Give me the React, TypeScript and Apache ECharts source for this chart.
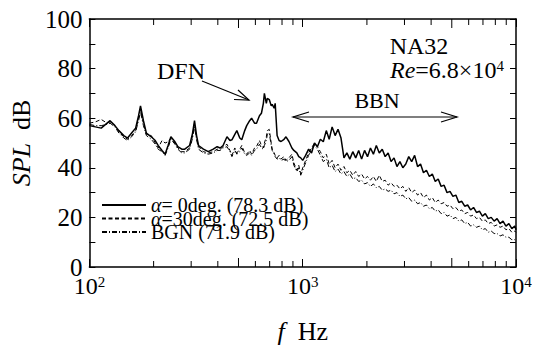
import { useEffect, useRef } from 'react';
import * as echarts from 'echarts';

const FONT = 'Liberation Serif';

// Frequency (Hz) of each spectral point
const freqHz = [
  100, 106.6, 113.6, 121, 125, 131.7, 137.5, 145, 151, 157.7, 164.7, 170, 173.6, 179.2, 185, 195,
  203.6, 210, 219, 226.4, 233.8, 241, 251.9, 259.8, 271, 280, 295, 304.6, 311, 318, 324.8, 342.4,
  361, 380.7, 397.2, 410, 423.4, 441.6, 456, 465.8, 480.6, 491.2, 507, 518, 534.8, 546.4, 564, 575.9,
  594.5, 607.4, 627, 640.5, 654, 661.2, 675.3, 682.5, 697, 712, 719.5, 735, 743, 758.6, 775, 791.7,
  817.5, 835, 862, 890, 909, 938.4, 958.5, 979,
  1000, 1032, 1066, 1100, 1136, 1172, 1210, 1249, 1290, 1331, 1374, 1419, 1464, 1512, 1561, 1611,
  1663, 1717, 1772, 1830, 1889, 1950, 2013, 2078, 2145, 2214, 2286, 2360, 2436, 2515, 2596, 2680,
  2766, 2856, 2948, 3043, 3142, 3243, 3348, 3456, 3568, 3683, 3802, 3925, 4052, 4183, 4318, 4457,
  4601, 4750, 4903, 5062, 5225, 5394, 5568, 5748, 5934, 6125, 6323, 6527, 6738, 6956, 7181, 7413,
  7652, 7899, 8155, 8418, 8690, 8971, 9261, 9560, 9869, 10000,
];

// SPL (dB), alpha = 0 deg
const splAlpha0 = [
  57, 56.5, 56, 58, 59, 57, 55, 53, 52, 54, 56, 61, 65, 59, 54, 52.5,
  51, 49, 47, 45.5, 49, 52.5, 50.5, 48.5, 47.5, 47.5, 49, 54, 59, 53, 49, 47.5,
  46.5, 47.5, 48.5, 48, 49, 52.5, 51, 51.3, 53.5, 55, 52, 51.3, 55, 57, 59, 60,
  58, 58, 61, 62, 66, 70, 66, 68, 67.5, 65, 65.6, 64, 66, 53, 51, 50.6,
  51.5, 52.5, 50.6, 48, 47, 46, 44.5, 44,
  43, 45, 47.5, 46, 50, 48.5, 51.5, 50.5, 55, 51.5, 56.5, 53, 55.5, 52, 44, 46,
  43.5, 46.5, 44, 47, 43.5, 47, 44.5, 48, 45.5, 49, 46, 47.5, 44.5, 46, 42.5, 44,
  40.5, 42.5, 40, 41.5, 44.5, 42.5, 45, 40.5, 41.5, 38, 39, 36.5, 37.5, 34.5, 35.5, 32.5,
  33, 30, 30.5, 28.5, 29, 26, 26.5, 24.5, 25, 23, 24, 22, 22.5, 20.5, 21.5, 19.5,
  20, 18.5, 19.5, 17.5, 18.5, 16.5, 17.5, 15.5, 16.5, 15,
];

// SPL (dB), alpha = 30 deg
const splAlpha30 = [
  58, 58.5, 59.5, 58, 58.5, 57, 54.5, 52.5, 51.5, 53, 55, 60, 63.5, 58, 53.5, 53,
  50, 48, 51, 50, 50.5, 52, 50, 48, 46.5, 46.5, 48, 53, 58, 52, 48.5, 46.5,
  46, 46.5, 47.5, 47.5, 48.5, 49.5, 47, 45, 48, 46, 47.5, 49, 46, 45.5, 47, 45.5,
  48, 48.6, 51, 49, 48, 50, 52.5, 55, 55.5, 50, 47.5, 46, 45, 44, 45, 43.6,
  44.5, 43, 44, 45.5, 42, 39, 41, 37.5,
  40, 43, 46, 48, 50, 48.5, 46.5, 44, 45.5, 41.5, 43, 40, 41.5, 39, 40.5, 38,
  39, 37, 38.5, 36.5, 37.5, 35.5, 36.5, 35, 36.5, 34.5, 37, 34.5, 35, 33, 34, 32.5,
  33, 31.5, 32.5, 30.5, 32, 30, 31, 29, 30, 28, 29, 27, 28, 26, 27, 25.5,
  26, 24.5, 25, 23.5, 24, 22.5, 23, 21.5, 22, 20.5, 21, 19.5, 20, 18.5, 19, 17.5,
  18, 16.5, 17, 16, 16.5, 15, 15.5, 14, 14.5, 14,
];

// SPL (dB), background noise
const splBGN = [
  57.5, 57, 57, 57.5, 58, 56.5, 54, 52, 51, 52.5, 54.5, 59, 62.5, 57, 53, 51.5,
  49.5, 47.5, 46.5, 45, 48, 51.5, 49.5, 47.5, 46, 46, 47.5, 52, 56.5, 51.5, 47.5, 46,
  45.5, 46, 47, 47, 48, 48.5, 46.5, 44.5, 47, 45.5, 46.5, 48, 45.5, 45, 46, 45,
  47, 47.5, 49.5, 48, 47.5, 49, 51, 53.5, 54, 49, 47, 45.5, 44.5, 43.5, 44, 43,
  43.5, 42.5, 43, 44.5, 41, 38.5, 40, 37,
  39, 42, 45, 47.5, 49, 47.5, 45, 42.5, 43.5, 40, 41, 38.5, 39.5, 37.5, 38.5, 36.5,
  37.5, 35.5, 36, 34.5, 35, 33.5, 34, 32.5, 33.5, 32, 32.5, 31, 31.5, 30.5, 31, 29.5,
  30, 28.5, 29, 27.5, 28, 26.5, 27, 25.5, 26, 24.5, 25, 23.5, 24, 22.5, 23, 21.5,
  22, 20.5, 21, 19.5, 20, 18.5, 19, 17.5, 18, 16.5, 17, 16, 16.5, 15, 15.5, 14,
  14.5, 13.5, 13.5, 12.5, 13, 12, 12, 11, 11, 10.5,
];

const seriesNames = ['α= 0deg. (78.3 dB)', 'α=30deg. (72.5 dB)', 'BGN (71.9 dB)'];
const xRange = [100, 10000];
const yRange = [0, 100];
const yInterval = 20;
const xMinorTicks = [200, 300, 400, 500, 600, 700, 800, 900, 2000, 3000, 4000, 5000, 6000, 7000, 8000, 9000];
const xLongMinorTicks = [500, 5000];

export default function App() {
  const ref = useRef<HTMLDivElement>(null);

  useEffect(() => {
    document.body.style.margin = '0';
    const chart = echarts.init(ref.current as HTMLDivElement, null, { renderer: 'svg' });
    const pair = (vals: number[]) => freqHz.map((f, i) => [f, vals[i]]);
    const black = '#000';
    const lineStyles: any[] = [
      { color: black, width: 1.5, type: 'solid' },
      { color: black, width: 1, type: [4, 2.5] },
      { color: black, width: 1, type: [5, 2, 1, 2] },
    ];
    const values = [splAlpha0, splAlpha30, splBGN];

    const baseX = {
      type: 'log',
      logBase: 10,
      min: xRange[0],
      max: xRange[1],
      axisLine: { show: true, onZero: false, lineStyle: { color: black, width: 1.5 } },
      axisTick: { show: true, inside: true, length: 8, lineStyle: { color: black, width: 1 } },
      splitLine: { show: false },
    };
    const baseY = {
      type: 'value',
      min: yRange[0],
      max: yRange[1],
      interval: yInterval,
      axisLine: { show: true, onZero: false, lineStyle: { color: black, width: 1.5 } },
      axisTick: { show: true, inside: true, length: 6, lineStyle: { color: black, width: 1 } },
      minorTick: { show: true, splitNumber: 2, length: 6, lineStyle: { color: black, width: 1 } },
      splitLine: { show: false },
    };

    const option: any = {
      animation: false,
      backgroundColor: '#fff',
      textStyle: { fontFamily: FONT, color: black },
      grid: { left: 82, right: 23, top: 19, bottom: 71 },
      xAxis: [
        {
          ...baseX,
          position: 'bottom',
          axisLabel: {
            margin: 7,
            formatter: (v: number) => `{b|10}{s|${Math.round(Math.log10(v))}}`,
            rich: {
              b: { fontSize: 24, fontFamily: FONT, color: black },
              s: { fontSize: 15, fontFamily: FONT, color: black, verticalAlign: 'top' },
            },
          },
          name: '{i|f}  Hz',
          nameLocation: 'middle',
          nameGap: 51,
          nameTextStyle: {
            fontSize: 26,
            fontFamily: FONT,
            color: black,
            rich: { i: { fontSize: 26, fontFamily: FONT, fontStyle: 'italic', color: black } },
          },
        },
        { ...baseX, position: 'top', axisLabel: { show: false } },
      ],
      yAxis: [
        {
          ...baseY,
          position: 'left',
          axisLabel: { fontSize: 25, fontFamily: FONT, color: black, margin: 7 },
          name: '{i|SPL}  dB',
          nameLocation: 'middle',
          nameGap: 49,
          nameTextStyle: {
            fontSize: 26,
            fontFamily: FONT,
            color: black,
            rich: { i: { fontSize: 26, fontFamily: FONT, fontStyle: 'italic', color: black } },
          },
        },
        { ...baseY, position: 'right', axisLabel: { show: false } },
      ],
      legend: {
        data: seriesNames,
        orient: 'vertical',
        left: 96,
        top: 190,
        itemWidth: 44,
        itemHeight: 14,
        itemGap: -6.5,
        selectedMode: false,
        itemStyle: { color: 'rgba(0,0,0,0)', borderWidth: 0, opacity: 0 },
        textStyle: {
          fontSize: 20,
          fontFamily: FONT,
          color: black,
          lineHeight: 14,
          rich: { i: { fontSize: 20, fontFamily: FONT, fontStyle: 'italic', color: black, lineHeight: 14 } },
        },
        formatter: (name: string) => name.replace('α', '{i|α}'),
      },
      series: [
        ...seriesNames.map((name, k) => ({
          type: 'line',
          name,
          data: pair(values[k]),
          symbol: 'none',
          showSymbol: false,
          lineStyle: lineStyles[k],
          itemStyle: { color: black },
          z: 3 - k,
          silent: true,
        })),
        {
          type: 'custom',
          coordinateSystem: 'cartesian2d',
          xAxisIndex: 0,
          yAxisIndex: 0,
          silent: true,
          z: 6,
          data: xMinorTicks.map((f) => [f, yRange[0]]),
          encode: { x: 0, y: 1 },
          renderItem: (_params: any, api: any) => {
            const f = api.value(0);
            const b = api.coord([f, yRange[0]]);
            const t = api.coord([f, yRange[1]]);
            const len = xLongMinorTicks.includes(f) ? 9 : 6;
            const st = { stroke: black, lineWidth: 1 };
            return {
              type: 'group',
              children: [
                { type: 'line', shape: { x1: b[0], y1: b[1], x2: b[0], y2: b[1] - len }, style: st },
                { type: 'line', shape: { x1: t[0], y1: t[1], x2: t[0], y2: t[1] + len }, style: st },
              ],
            };
          },
        },
      ],
      graphic: [
        {
          type: 'text', x: 181, y: 71,
          style: { text: 'DFN', fontSize: 24, fontFamily: FONT, fill: black, align: 'center', verticalAlign: 'middle', textAlign: 'center', textVerticalAlign: 'middle' },
        },
        { type: 'line', shape: { x1: 202, y1: 81, x2: 249, y2: 100 }, style: { stroke: black, lineWidth: 1.2 } },
        { type: 'polyline', shape: { points: [[234, 99.5], [249, 100], [238, 90]] }, style: { stroke: black, fill: 'none', lineWidth: 1.2 } },
        {
          type: 'text', x: 419, y: 46,
          style: { text: 'NA32', fontSize: 24, fontFamily: FONT, fill: black, align: 'center', verticalAlign: 'middle', textAlign: 'center', textVerticalAlign: 'middle' },
        },
        {
          type: 'text', x: 390, y: 70,
          style: {
            text: '{i|Re}=6.8×10{s|4}', fontSize: 24, fontFamily: FONT, fill: black,
            align: 'left', verticalAlign: 'middle', textAlign: 'left', textVerticalAlign: 'middle',
            rich: {
              i: { fontSize: 24, fontFamily: FONT, fontStyle: 'italic', fill: black },
              s: { fontSize: 15, fontFamily: FONT, fill: black, verticalAlign: 'top' },
            },
          },
        },
        {
          type: 'text', x: 377, y: 100,
          style: { text: 'BBN', fontSize: 22, fontFamily: FONT, fill: black, align: 'center', verticalAlign: 'middle', textAlign: 'center', textVerticalAlign: 'middle' },
        },
        { type: 'line', shape: { x1: 293, y1: 117, x2: 457, y2: 117 }, style: { stroke: black, lineWidth: 1.2 } },
        { type: 'polyline', shape: { points: [[309, 112], [293, 117], [309, 122]] }, style: { stroke: black, fill: 'none', lineWidth: 1.2 } },
        { type: 'polyline', shape: { points: [[441, 112], [457, 117], [441, 122]] }, style: { stroke: black, fill: 'none', lineWidth: 1.2 } },
      ],
    };

    chart.setOption(option);
    return () => chart.dispose();
  }, []);

  return <div ref={ref} style={{ position: 'absolute', left: 0, top: 0, width: 539, height: 349 }} />;
}
